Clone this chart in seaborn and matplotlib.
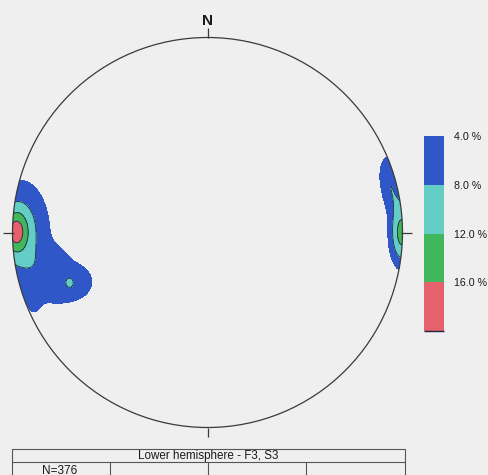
import numpy as np
import matplotlib
matplotlib.use("Agg")
import matplotlib.pyplot as plt
from matplotlib.colors import ListedColormap, BoundaryNorm
from matplotlib.patches import Circle
import matplotlib.cm as cm
import seaborn as sns

# Contour intervals (percent of poles per 1 % area) and fill colours
levels_pct = [4.0, 8.0, 12.0, 16.0, 20.0]
band_colors = ["#2f57c8", "#63cdc6", "#40b65d", "#e5616b"]
tick_labels = ["4.0 %", "8.0 %", "12.0 %", "16.0 %"]

# Pole concentrations on the net (x east, y north, primitive circle radius 1)
conc_x = [-0.982, -0.962, -0.736, -0.782, -0.890, -0.705, 0.997, 0.926, 0.946]
conc_y = [0.003, 0.008, -0.254, -0.121, -0.372, -0.259, -0.003, 0.310, 0.192]
conc_sx = [0.041, 0.113, 0.144, 0.046, 0.026, 0.015, 0.046, 0.041, 0.041]
conc_sy = [0.072, 0.195, 0.103, 0.046, 0.051, 0.020, 0.123, 0.082, 0.072]
conc_amp = [9.0, 9.7, 6.5, 1.5, 2.5, 3.0, 13.5, 6.0, 4.0]

n_poles = 376
table_title = "Lower hemisphere - F3, S3"
north_label = "N"

BG = "#efefef"
INK = "#3a3a3a"
EDGE = "#1b2748"

sns.set_theme(style="white")
plt.rcParams["font.family"] = ["Liberation Sans", "DejaVu Sans"]

W, H = 488, 475
fig = plt.figure(figsize=(W / 100, H / 100), dpi=100)
fig.patch.set_facecolor(BG)

# --- stereonet ---------------------------------------------------------
cx, cy, r = 207.5, 232.5, 195.0
ax = fig.add_axes([0, 0, 1, 1])
ax.set_facecolor("none")
ax.set_xlim(-cx / r, (W - cx) / r)
ax.set_ylim((cy - H) / r, cy / r)
ax.axis("off")

g = np.linspace(-1.02, 1.02, 700)
X, Y = np.meshgrid(g, g)
Z = np.zeros_like(X)
for x0, y0, sx, sy, a in zip(conc_x, conc_y, conc_sx, conc_sy, conc_amp):
    Z += a * np.exp(-0.5 * ((X - x0) / sx) ** 2 - 0.5 * ((Y - y0) / sy) ** 2)

fill_levels = levels_pct[:4] + [1e3]
cs = ax.contourf(X, Y, Z, levels=fill_levels, colors=band_colors)
cl = ax.contour(X, Y, Z, levels=levels_pct[1:4], colors=EDGE, linewidths=0.6)

rim = Circle((0, 0), 1.0, transform=ax.transData, fc="none", ec=INK, lw=0.9)
ax.add_patch(rim)
cs.set_clip_path(rim)
cl.set_clip_path(rim)

t = 0.047
for xs, ys in [([0, 0], [1, 1 + t]), ([0, 0], [-1, -1 - t]),
               ([-1 - t, -0.99], [0, 0]), ([0.99, 1 + t], [0, 0])]:
    ax.plot(xs, ys, color=INK, lw=0.9, solid_capstyle="butt")

ax.text(0, 1.085, north_label, ha="center", va="center",
        fontsize=11, fontweight="bold", color="#1a1a1a")

# --- colour scale ------------------------------------------------------
cb_left, cb_top, cb_w, cb_h = 424, 136, 20, 195
cax = fig.add_axes([cb_left / W, (H - cb_top - cb_h) / H, cb_w / W, cb_h / H])
cmap = ListedColormap(band_colors)
norm = BoundaryNorm(levels_pct, cmap.N)
cb = fig.colorbar(cm.ScalarMappable(norm=norm, cmap=cmap), cax=cax,
                  drawedges=True)
cax.invert_yaxis()
cb.set_ticks(levels_pct[:4])
cb.set_ticklabels(tick_labels)
cax.minorticks_off()
cax.tick_params(which="both", length=0, width=0, pad=7, labelsize=7.7,
                colors="#1a1a1a")
cb.outline.set_visible(False)
cb.dividers.set_color(EDGE)
cb.dividers.set_linewidth(0.9)

# --- overlay in pixel units: scale base line and information table ------
tab = fig.add_axes([0, 0, 1, 1])
tab.set_facecolor("none")
tab.set_xlim(0, W)
tab.set_ylim(H, 0)
tab.axis("off")
tab.plot([cb_left, cb_left + cb_w], [cb_top + cb_h, cb_top + cb_h],
         color=EDGE, lw=1.0, solid_capstyle="butt")

lc = "#555555"
left, right, top, row = 12, 405, 448.5, 462
tab.plot([left, right], [top, top], color=lc, lw=0.8)
tab.plot([left, right], [row, row], color=lc, lw=0.8)
tab.plot([left, left], [top, H + 5], color=lc, lw=0.8)
tab.plot([right, right], [top, H + 5], color=lc, lw=0.8)
for xc in [109.5, 208, 306]:
    tab.plot([xc, xc], [row, H + 5], color=lc, lw=0.8)
tab.text((left + right) / 2, 456, table_title, ha="center", va="center",
         fontsize=8.4, color="#1a1a1a")
tab.text(60, 470.5, f"N={n_poles}", ha="center", va="center",
         fontsize=8.5, color="#1a1a1a")

fig.savefig("out.png", dpi=100, facecolor=BG)
